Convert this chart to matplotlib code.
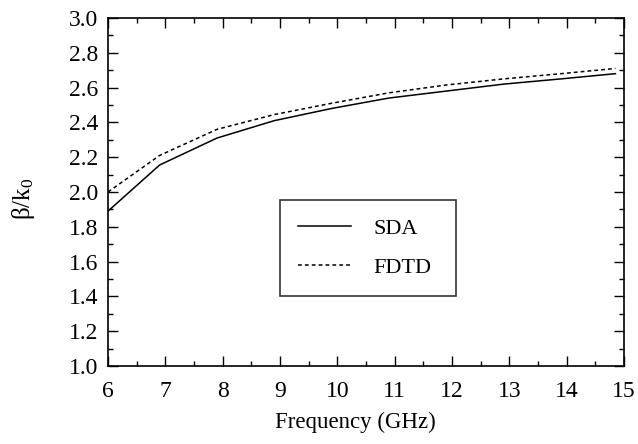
import matplotlib
matplotlib.use("Agg")
import matplotlib.pyplot as plt
from matplotlib.ticker import MultipleLocator

plt.rcParams['font.family'] = ['Liberation Serif', 'DejaVu Serif']
plt.rcParams['mathtext.fontset'] = 'custom'
plt.rcParams['mathtext.rm'] = 'Liberation Serif'
plt.rcParams['mathtext.it'] = 'Liberation Serif:italic'

freq = [6.0, 6.9, 7.9, 8.9, 9.9, 10.9, 11.9, 12.9, 13.9, 14.85]
sda = [1.89, 2.155, 2.31, 2.41, 2.48, 2.54, 2.58, 2.62, 2.65, 2.68]
fdtd = [2.0, 2.21, 2.36, 2.445, 2.51, 2.57, 2.615, 2.65, 2.68, 2.71]
xticks = [6, 7, 8, 9, 10, 11, 12, 13, 14, 15]
yticks = [1.0, 1.2, 1.4, 1.6, 1.8, 2.0, 2.2, 2.4, 2.6, 2.8, 3.0]

fig = plt.figure(figsize=(6.38, 4.44), dpi=100)
ax = fig.add_axes([108/638, 1-366/444, 516/638, 348/444])
ax.plot(freq, sda, color='black', lw=1.1, label='SDA')
ax.plot(freq, fdtd, color='black', lw=1.1, dashes=(2.5, 2), label='FDTD')
ax.set_xlim(6, 15)
ax.set_ylim(1.0, 3.0)
ax.set_xticks(xticks)
ax.set_yticks(yticks)
ax.set_yticklabels([f"{v:.1f}" for v in yticks])
ax.xaxis.set_minor_locator(MultipleLocator(0.5))
ax.yaxis.set_minor_locator(MultipleLocator(0.1))
ax.tick_params(which='both', direction='in', top=True, right=True, labelsize=17, width=1.0)
ax.tick_params(which='major', length=7)
ax.tick_params(axis='x', which='major', pad=10.5)
ax.tick_params(axis='y', which='major', pad=7)
ax.tick_params(which='minor', length=3.5)
for s in ax.spines.values():
    s.set_linewidth(1.2)
ax.set_xlabel('Frequency (GHz)', fontsize=16.5)
ax.xaxis.set_label_coords(0.48, -0.133)
ax.set_ylabel('β/k$_0$', fontsize=18)
ax.yaxis.set_label_coords(-0.137, 0.48)

leg = ax.legend(loc='lower left', bbox_to_anchor=(0.333, 0.201, 0.341, 0.276), mode='expand',
                fontsize=16, frameon=True, fancybox=False, handlelength=2.4,
                handletextpad=1.0, labelspacing=0.85, borderpad=0.8, borderaxespad=0)
leg.get_frame().set_edgecolor('black')
leg.get_frame().set_linewidth(1.2)

fig.savefig('out.png', dpi=100)
